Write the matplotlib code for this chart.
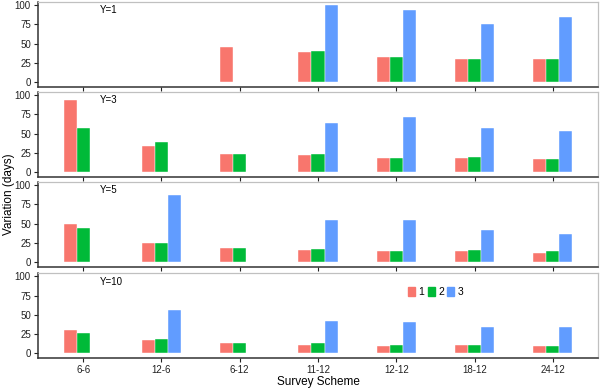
import numpy as np
import matplotlib.pyplot as plt
from matplotlib.patches import Patch

plt.rcParams['font.family'] = ['Liberation Sans', 'DejaVu Sans']

schemes = ["6-6", "12-6", "6-12", "11-12", "12-12", "18-12", "24-12"]
panels = ["Y=1", "Y=3", "Y=5", "Y=10"]
nan = np.nan

# variation (days) for groups 1, 2, 3 in each panel
g1 = [
    [nan, nan, 46, 39, 33, 30, 30],
    [93, 34, 24, 23, 18, 19, 17],
    [50, 25, 18, 16, 14, 15, 12],
    [31, 17.5, 14, 11.5, 10, 11.5, 10],
]
g2 = [
    [nan, nan, nan, 40, 33, 30, 30],
    [57, 39, 24, 24, 19, 20, 17],
    [45, 25, 18, 17, 14, 16, 14],
    [27, 19, 14, 13, 11.5, 11.5, 10],
]
g3 = [
    [nan, nan, nan, 100, 93, 75, 84],
    [nan, nan, nan, 64, 72, 57, 53],
    [nan, 87, nan, 55, 55, 41.5, 37],
    [nan, 56, nan, 42, 41, 34, 34],
]
groups = ["1", "2", "3"]
colors = ["#F8766D", "#00BA38", "#619CFF"]

fig = plt.figure(figsize=(6, 3.88), dpi=100)
bottoms = [0.776, 0.544, 0.312, 0.077]
h = 0.219
x = np.arange(len(schemes))
w = 1 / 6

for i, name in enumerate(panels):
    ax = fig.add_axes([0.063, bottoms[i], 0.934, h])
    for j, data in enumerate([g1, g2, g3]):
        vals = np.array(data[i], dtype=float)
        ok = ~np.isnan(vals)
        ax.bar(x[ok] + (j - 1) * w, vals[ok], width=w, color=colors[j],
               edgecolor='white', linewidth=0.3)
    ax.set_xlim(-0.58, 6.58)
    ax.set_ylim(-6, 104)
    ax.set_yticks([0, 25, 50, 75, 100])
    ax.set_xticks(x)
    if i == 3:
        ax.set_xticklabels(schemes)
    else:
        ax.set_xticklabels([])
    ax.tick_params(labelsize=7, length=3, width=0.8, colors='#222222', pad=2)
    ax.tick_params(axis='x', pad=2)
    for s in ['top', 'right']:
        ax.spines[s].set_color('#c0c0c0')
        ax.spines[s].set_linewidth(0.9)
    for s in ['left', 'bottom']:
        ax.spines[s].set_color('#333333')
        ax.spines[s].set_linewidth(1.1)
    ax.text(0.11, 0.9, name, transform=ax.transAxes, fontsize=7,
            va='center', ha='left')
    if i == 3:
        handles = [Patch(color=c) for c in colors]
        ax.legend(handles, groups, ncol=3, loc='center', bbox_to_anchor=(0.71, 0.78),
                  frameon=False, fontsize=7.5, handlelength=0.7, handleheight=0.9,
                  handletextpad=0.3, columnspacing=0.3, borderpad=0)
        ax.set_xlabel("Survey Scheme", fontsize=8.5, labelpad=1)

fig.text(0.005, 0.5, "Variation (days)", rotation=90, va='center', ha='left', fontsize=8.5)

plt.savefig('out.png', dpi=100)
